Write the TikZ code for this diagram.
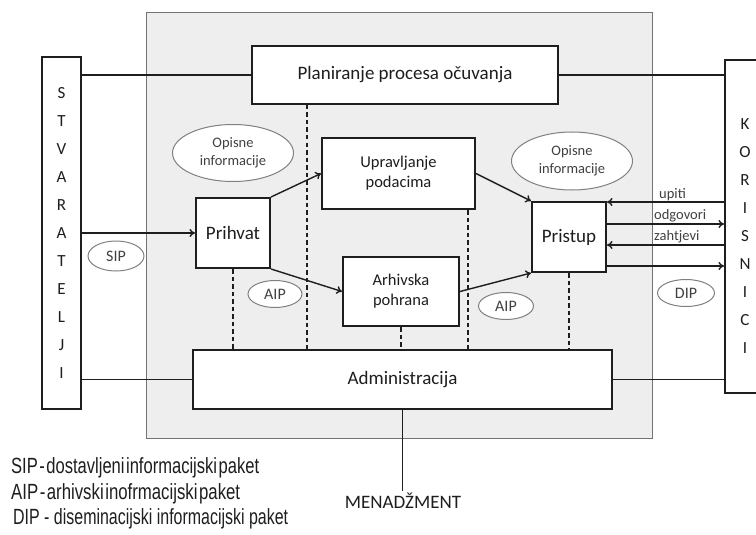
\documentclass[tikz,border=0pt]{standalone}
\usepackage{fontspec}
\usepackage{graphicx}
\setmainfont{Carlito}
\newfontfamily\legendfont{Liberation Sans}
\usetikzlibrary{arrows.meta,shapes.geometric,calc}
\definecolor{panel}{HTML}{EEEEEE}
\definecolor{ink}{HTML}{1E1E1E}
\definecolor{softink}{HTML}{404040}
\begin{document}
\begin{tikzpicture}[x=1pt,y=-1pt,
  box/.style={draw=ink, line width=2pt, fill=white, inner sep=0pt, align=center, text=ink},
  oval/.style={ellipse, draw=black!50, line width=1pt, fill=white, inner sep=0pt, align=center, text=softink},
  conn/.style={line width=1.4pt, draw=ink},
  arr/.style={conn, -{To[length=5.5pt,width=8pt]}},
  dashline/.style={line width=1.6pt, dash pattern=on 4.5pt off 3pt, draw=ink},
  lbl/.style={font=\fontsize{14.5}{17}\selectfont, text=softink, inner sep=0pt},
  big/.style={font=\fontsize{19}{22}\selectfont},
  mid/.style={font=\fontsize{16.5}{20}\selectfont},
  small/.style={font=\fontsize{14.5}{18}\selectfont},
  pkg/.style={font=\fontsize{16}{18}\selectfont},
  letters/.style={font=\fontsize{17}{28}\selectfont, align=center, text=ink, inner sep=0pt},
  legend/.style={anchor=base west, inner sep=0pt, text=ink}
]
\clip (0,0) rectangle (756,535);
\fill[white] (0,0) rectangle (756,535);

% grey panel
\node[draw=black!55, line width=0.9pt, fill=panel, minimum width=506pt, minimum height=426pt, inner sep=0pt] (panel) at (399,225) {};

% outer boxes
\node[box, minimum width=39pt, minimum height=352pt, letters] (stv) at (61.5,233)
  {S\\T\\V\\A\\R\\A\\T\\E\\L\\J\\I};
\node[box, minimum width=70pt, minimum height=333pt] (kor) at (760,226.5) {};
\node[letters] (korlbl) at (745,236.5) {K\\O\\R\\I\\S\\N\\I\\C\\I};

% inner boxes
\node[box, big, minimum width=306pt, minimum height=58pt] (plan) at (405,75) {Planiranje procesa očuvanja};
\node[box, mid, minimum width=153pt, minimum height=71pt] (upr) at (398.5,173.5) {Upravljanje\\podacima};
\node[box, big, minimum width=74pt, minimum height=70pt] (prih) at (233,233) {Prihvat};
\node[box, mid, minimum width=116pt, minimum height=69pt] (arh) at (401,291.5) {Arhivska\\pohrana};
\node[box, big, minimum width=74pt, minimum height=70pt] (pris) at (569,237) {Pristup};
\node[box, big, minimum width=419pt, minimum height=59pt] (adm) at (402.5,379.5) {Administracija};

% ellipses
\node[oval, small, minimum width=121pt, minimum height=57pt] (op1) at (233,153) {Opisne\\informacije};
\node[oval, small, minimum width=121pt, minimum height=58pt] (op2) at (572,161) {Opisne\\informacije};
\node[oval, pkg, minimum width=56pt, minimum height=30pt] (sip) at (116,256) {SIP};
\node[oval, pkg, minimum width=54pt, minimum height=27pt] (aip1) at (275,294) {AIP};
\node[oval, pkg, minimum width=55pt, minimum height=27pt] (aip2) at (506,306) {AIP};
\node[oval, pkg, minimum width=57pt, minimum height=27pt] (dip) at (686,293) {DIP};

% helper coordinates
\coordinate (d1) at (307,0);
\coordinate (d3) at (468,0);
\coordinate (y1) at (0,202);
\coordinate (y2) at (0,224);
\coordinate (y3) at (0,245);
\coordinate (y4) at (0,266);

% plain connectors
\draw[conn] (stv.east |- plan.west) -- (plan.west);
\draw[conn] (plan.east) -- (kor.west |- plan.east);
\draw[conn] (stv.east |- adm.west) -- (adm.west);
\draw[conn] (adm.east) -- (kor.west |- adm.east);

% arrows
\draw[arr] (stv.east |- prih.west) -- (prih.west);
\draw[arr] (prih.north east) -- (upr.west);
\draw[arr] (prih.south east) -- (arh.west);
\draw[arr] (upr.east) -- (pris.north west);
\draw[arr] (arh.east) -- (pris.south west);
\draw[arr] (kor.west |- y1) -- (pris.east |- y1);
\draw[arr] (pris.east |- y2) -- (kor.west |- y2);
\draw[arr] (kor.west |- y3) -- (pris.east |- y3);
\draw[arr] (pris.east |- y4) -- (kor.west |- y4);

% arrow labels
\node[lbl, anchor=base west] (lupiti) at (659,198) {upiti};
\node[lbl, anchor=base west] (lodg) at (654,219) {odgovori};
\node[lbl, anchor=base west] (lzah) at (654,240) {zahtjevi};

% dashed links
\draw[dashline] (plan.south -| d1) -- (adm.north -| d1);
\draw[dashline] (prih.south) -- (prih.south |- adm.north);
\draw[dashline] (upr.south -| d3) -- (adm.north -| d3);
\draw[dashline] (arh.south) -- (arh.south |- adm.north);
\draw[dashline] (pris.south) -- (pris.south |- adm.north);

% management
\node[big, text=ink, anchor=base, inner sep=1pt] (men) at (403,508) {MENADŽMENT};
\draw[conn] (adm.south) -- (adm.south |- men.north);

% legend
\node[legend] (leg1) at (11,473) {\resizebox{248pt}{\height}{\legendfont\fontsize{22}{26}\selectfont\spaceskip=2pt SIP - dostavljeni informacijski paket}};
\node[legend] (leg2) at (11,499) {\resizebox{229pt}{\height}{\legendfont\fontsize{22}{26}\selectfont\spaceskip=2pt AIP - arhivski inofrmacijski paket}};
\node[legend] (leg3) at (13,524) {\resizebox{275pt}{\height}{\legendfont\fontsize{22}{26}\selectfont DIP - diseminacijski informacijski paket}};
\end{tikzpicture}
\end{document}
